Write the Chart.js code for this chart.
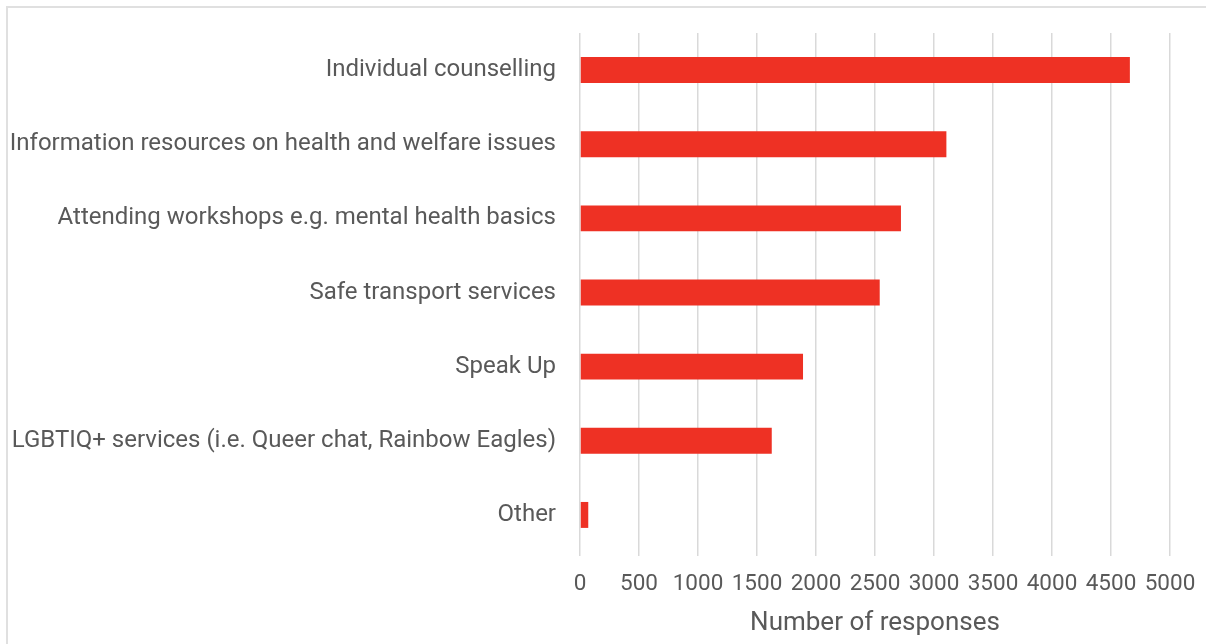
<!DOCTYPE html>
<html>
<head>
<meta charset="utf-8">
<script src="https://cdn.jsdelivr.net/npm/chart.js@4"></script>
<style>
  html, body { margin: 0; padding: 0; background: #ffffff; overflow: hidden; }
  #wrap { position: relative; width: 1206px; height: 644px; }
  #frame { position: absolute; left: 6px; top: 6px; width: 1300px; height: 800px; border: 2px solid #e0e0e0; box-sizing: border-box; }
  canvas { position: absolute; left: 0; top: 0; }
</style>
</head>
<body>
<div id="wrap">
  <div id="frame"></div>
  <canvas id="c" width="1206" height="644"></canvas>
</div>
<script>
const categories = [
  "Individual counselling",
  "Information resources on health and welfare issues",
  "Attending workshops e.g. mental health basics",
  "Safe transport services",
  "Speak Up",
  "LGBTIQ+ services (i.e. Queer chat, Rainbow Eagles)",
  "Other"
];
const responses = [4660, 3105, 2720, 2540, 1890, 1625, 70];
const xTickStep = 500;
const xMax = 5000;
const axisTitle = "Number of responses";

const FONT = "Roboto, 'Noto Sans', sans-serif";
const TEXT = "#595959";

new Chart(document.getElementById('c'), {
  type: 'bar',
  data: {
    labels: categories,
    datasets: [{
      data: responses,
      backgroundColor: '#EE3124',
      borderWidth: 0,
      categoryPercentage: 1,
      barPercentage: 0.35
    }]
  },
  options: {
    indexAxis: 'y',
    responsive: false,
    animation: false,
    layout: { padding: { top: 33, right: 36, bottom: 0, left: 0 } },
    plugins: { legend: { display: false }, tooltip: { enabled: false } },
    scales: {
      x: {
        min: 0,
        max: xMax,
        ticks: {
          stepSize: xTickStep, color: TEXT, font: { family: FONT, size: 22.5 }, padding: 15,
          maxRotation: 0, autoSkip: false,
          callback: (v) => String(v)
        },
        grid: { color: '#d9d9d9', lineWidth: 1.5, drawTicks: true, tickLength: 4 },
        border: { display: false },
        title: { display: true, text: axisTitle, color: TEXT, font: { family: FONT, size: 26 }, padding: { top: 4, bottom: 5 } },
        afterFit: (axis) => { axis.height = 92; axis.paddingLeft = 0; axis.paddingRight = 0; }
      },
      y: {
        ticks: { color: TEXT, font: { family: FONT, size: 24 }, padding: 24, autoSkip: false },
        grid: { display: false, drawTicks: false },
        border: { display: false },
        afterFit: (axis) => { axis.width = 580; axis.paddingTop = 0; axis.paddingBottom = 0; }
      }
    }
  }
});
</script>
</body>
</html>
